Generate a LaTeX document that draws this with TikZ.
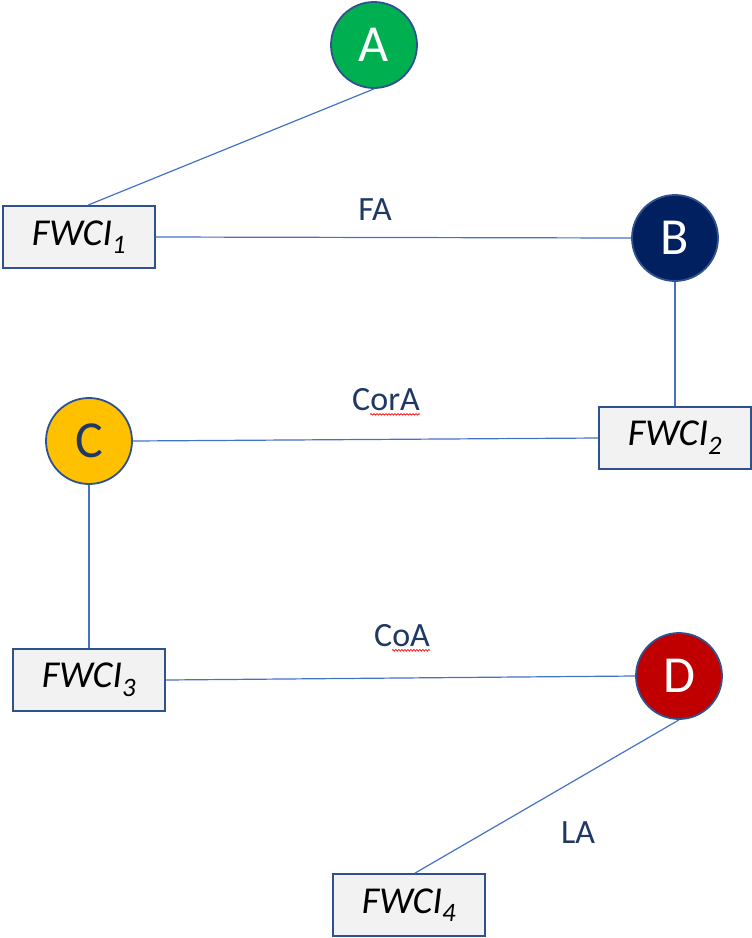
\documentclass[tikz,border=0pt]{standalone}
\usepackage{fontspec}
\setmainfont{Carlito}
\usetikzlibrary{decorations.pathmorphing}
\definecolor{navy}{HTML}{1F3864}
\definecolor{edgeblue}{HTML}{2F528F}
\definecolor{linkblue}{HTML}{4472C4}
\definecolor{boxgray}{HTML}{F2F2F2}
\definecolor{agreen}{HTML}{00B050}
\definecolor{bnavy}{HTML}{002060}
\definecolor{cgold}{HTML}{FFC000}
\definecolor{dred}{HTML}{C00000}

\begin{document}
\begin{tikzpicture}[x=1pt,y=-1pt,
  actor/.style={circle,draw=edgeblue,line width=1.8pt,minimum size=86pt,inner sep=0pt,font=\fontsize{52}{56}\selectfont},
  fwci/.style={rectangle,draw=edgeblue,line width=1.8pt,fill=boxgray,minimum width=152pt,minimum height=62pt,inner sep=0pt,font=\fontsize{38}{42}\selectfont\itshape},
  role/.style={text=navy,inner sep=0pt,font=\fontsize{34}{38}\selectfont},
  link/.style={draw=linkblue,line width=1.2pt},
  typo/.style={draw=red,line width=0.7pt,decorate,decoration={snake,amplitude=0.8pt,segment length=3pt}}]

  \newcommand\FW[1]{FWCI\textsubscript{#1}}

  \useasboundingbox (0,0) rectangle (752,938);

  % authors
  \node[actor,fill=agreen,text=white] (A) at (374,45) {A};
  \node[actor,fill=bnavy,text=white] (B) at (675,238) {B};
  \node[actor,fill=cgold,text=navy] (C) at (89,441) {C};
  \node[actor,fill=dred,text=white] (D) at (679,676) {D};

  % indicator boxes
  \node[fwci] (f1) at (79,237) {\FW{1}};
  \node[fwci] (f2) at (675,438) {\FW{2}};
  \node[fwci] (f3) at (89,680) {\FW{3}};
  \node[fwci] (f4) at (409,905) {\FW{4}};

  % roles
  \node[role] (FA) at (375,210) {FA};
  \node[role] (CorA) at (386,400) {CorA};
  \node[role] (CoA) at (402,636) {CoA};
  \node[role] (LA) at (578,833) {LA};
  \draw[typo] ([xshift=18pt,yshift=-3pt]CorA.south west) -- ([yshift=-3pt]CorA.south east);
  \draw[typo] ([xshift=18pt,yshift=-3pt]CoA.south west) -- ([yshift=-3pt]CoA.south east);

  \draw[link] (A.south) -- ([xshift=9pt]f1.north); %% A-f1
  \draw[link] (f1.east) -- (B.west); %% f1-B
  \draw[link] (B.south) -- (f2.north); %% B-f2
  \draw[link] (C.east) -- (f2.west); %% C-f2
  \draw[link] (C.south) -- (f3.north); %% C-f3
  \draw[link] (f3.east) -- (D.west); %% f3-D
  \draw[link] (D.south) -- ([xshift=6pt]f4.north); %% D-f4

\end{tikzpicture}
\end{document}
